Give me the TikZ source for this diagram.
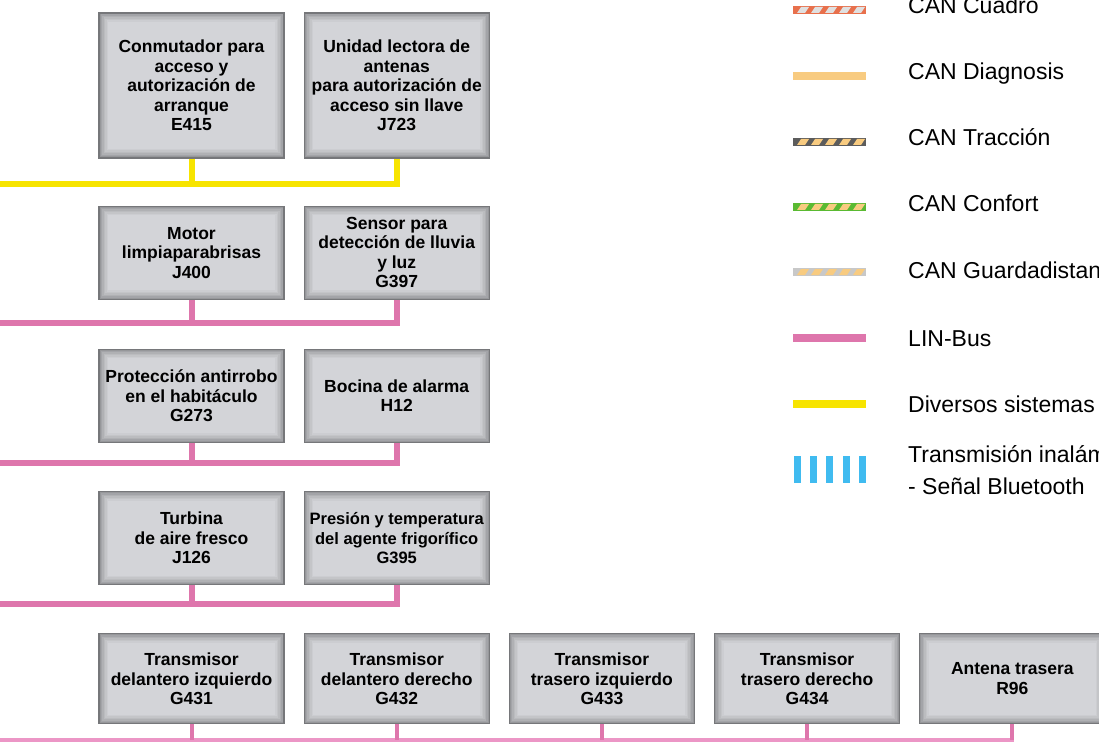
\documentclass[tikz,border=0pt]{standalone}
\usepackage{fontspec}
\setmainfont{Liberation Sans}
\usepackage{tikz}
\usetikzlibrary{positioning}
\definecolor{boxline}{RGB}{118,119,122}
\definecolor{boxedge}{RGB}{150,151,154}
\definecolor{boxfill}{RGB}{211,212,216}
\definecolor{linpink}{RGB}{222,118,172}
\definecolor{linpinklt}{RGB}{236,150,198}
\definecolor{divyellow}{RGB}{247,228,0}
\definecolor{diagtan}{RGB}{248,203,128}
\definecolor{cuadrored}{RGB}{232,112,76}
\definecolor{stripelt}{RGB}{224,224,224}
\definecolor{traccgray}{RGB}{92,92,92}
\definecolor{confgreen}{RGB}{90,186,50}
\definecolor{guardgray}{RGB}{200,200,200}
\definecolor{btblue}{RGB}{64,187,240}
\newcommand{\ecufont}{\bfseries\fontsize{17.5}{19.5}\selectfont}
\newcommand{\legfont}{\fontsize{23}{32}\selectfont}
\newcommand{\stripebar}[3]{%
  \fill[#2] (793,#1-4) rectangle (866,#1+4);
  \foreach \sx in {797,811,...,853}
    \fill[#3] (\sx,#1+3) -- (\sx+8,#1+3) -- (\sx+12,#1-3) -- (\sx+4,#1-3) -- cycle;
}

\begin{document}
\begin{tikzpicture}[
  x=1pt, y=-1pt,
  ecu/.style={rectangle, draw=boxline, line width=1.2pt, fill=boxedge,
              minimum width=185pt, align=center, font=\ecufont, inner sep=1pt,
              path picture={
                \foreach \d/\p in {1.5/22,3/42,4.5/60,6/75,7.5/88,9/100}
                  \fill[boxfill!\p!boxedge]
                    ([shift={(\d pt,-\d pt)}]path picture bounding box.north west)
                    rectangle ([shift={(-\d pt,\d pt)}]path picture bounding box.south east);
              }},
  divbus/.style={draw=divyellow, line width=6pt},
  linbus/.style={draw=linpink, line width=6pt},
  linthin/.style={draw=linpinklt, line width=3.5pt},
  linstub/.style={draw=linpink, line width=4pt},
  legtext/.style={anchor=base west, font=\legfont, inner sep=0pt}
]
  \useasboundingbox (0,0) rectangle (1099,743);
  \clip (0,0) rectangle (1099,743);

  \node[ecu, minimum height=145pt] (e415) at (191.5,85.5)
    {Conmutador para\\acceso y\\autorización de\\arranque\\E415};
  \node[ecu, minimum height=145pt, right=19pt of e415] (j723)
    {Unidad lectora de\\antenas\\para autorización de\\acceso sin llave\\J723};

  \node[ecu, minimum height=93pt, below=47pt of e415] (j400)
    {Motor\\limpiaparabrisas\\J400};
  \node[ecu, minimum height=93pt, right=19pt of j400] (g397)
    {Sensor para\\detección de lluvia\\y luz\\G397};

  \node[ecu, minimum height=93pt, below=49pt of j400] (g273)
    {Protección antirrobo\\en el habitáculo\\G273};
  \node[ecu, minimum height=93pt, right=19pt of g273] (h12)
    {Bocina de alarma\\H12};

  \node[ecu, minimum height=93pt, below=48pt of g273] (j126)
    {Turbina\\de aire fresco\\J126};
  \node[ecu, minimum height=93pt, right=19pt of j126,
        font=\bfseries\fontsize{16.5}{19.5}\selectfont] (g395)
    {Presión y temperatura\\del agente frigorífico\\G395};

  \node[ecu, minimum height=90pt, below=48pt of j126] (g431)
    {Transmisor\\delantero izquierdo\\G431};
  \node[ecu, minimum height=90pt, right=19pt of g431] (g432)
    {Transmisor\\delantero derecho\\G432};
  \node[ecu, minimum height=90pt, right=19pt of g432] (g433)
    {Transmisor\\trasero izquierdo\\G433};
  \node[ecu, minimum height=90pt, right=19pt of g433] (g434)
    {Transmisor\\trasero derecho\\G434};
  \node[ecu, minimum height=90pt, right=19pt of g434] (r96)
    {Antena trasera\\R96};

  \coordinate (busone) at (0,184);
  \coordinate (bustwo) at (0,323);
  \coordinate (busthree) at (0,463);
  \coordinate (busfour) at (0,604);
  \coordinate (busfive) at (0,740);

  \draw[divbus] (busone) -| (j723.south);
  \draw[divbus] (e415.south) -- (e415.south |- busone);
  \draw[linbus] (bustwo) -| (g397.south);
  \draw[linbus] (j400.south) -- (j400.south |- bustwo);
  \draw[linbus] (busthree) -| (h12.south);
  \draw[linbus] (g273.south) -- (g273.south |- busthree);
  \draw[linbus] (busfour) -| (g395.south);
  \draw[linbus] (j126.south) -- (j126.south |- busfour);
  \draw[linthin] (busfive) -| (r96.south);
  \foreach \n in {g431,g432,g433,g434,r96}
    \draw[linstub] (\n.south) -- (\n.south |- busfive);

  \stripebar{10}{cuadrored}{stripelt}
  \fill[diagtan] (793,72) rectangle (866,80);
  \stripebar{142}{traccgray}{diagtan}
  \stripebar{207}{confgreen}{diagtan}
  \stripebar{272}{guardgray}{diagtan}
  \fill[linpink] (793,334) rectangle (866,342);
  \fill[divyellow] (793,400) rectangle (866,408);
  \foreach \bx in {794,810,826,843,859}
    \fill[btblue] (\bx,456) rectangle (\bx+7,483);

  \node[legtext] (lcuadro) at (908,14) {CAN Cuadro};
  \node[legtext] (ldiag) at (908,80) {CAN Diagnosis};
  \node[legtext] (ltracc) at (908,146) {CAN Tracción};
  \node[legtext] (lconf) at (908,212) {CAN Confort};
  \node[legtext] (lguard) at (908,278) {CAN Guardadistancia};
  \node[legtext] (llin) at (908,346) {LIN-Bus};
  \node[legtext] (ldiv) at (908,412) {Diversos sistemas};
  \node[legtext, anchor=west, align=left] (lbt) at (908,470)
    {Transmisión inalámbrica\\- Señal Bluetooth};
\end{tikzpicture}
\end{document}
